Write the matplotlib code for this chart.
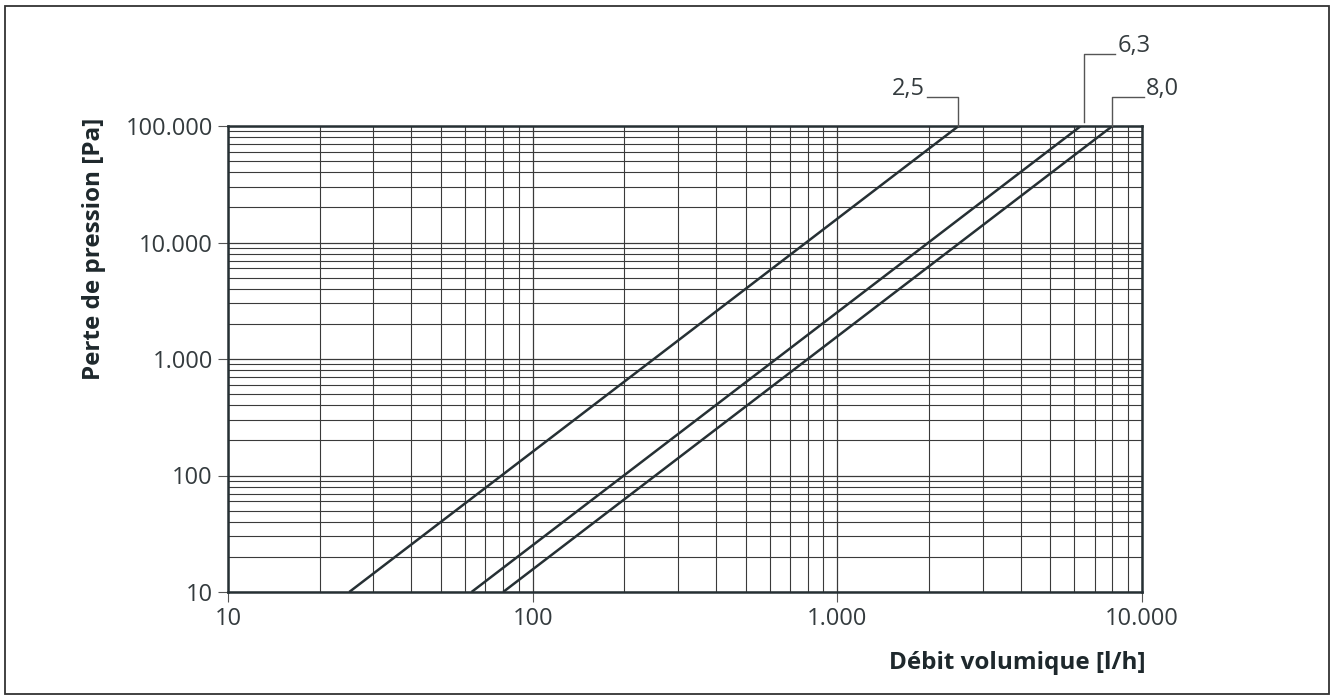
import matplotlib
matplotlib.use("Agg")
from matplotlib import pyplot as plt
from matplotlib.patches import Rectangle
from matplotlib.ticker import FixedLocator, FixedFormatter, LogLocator, NullFormatter

# Data: valve curves (kv values), endpoints
kv_labels = ["2,5", "6,3", "8,0"]
flow_25 = [25, 2500]
flow_63 = [63, 6300]
flow_80 = [80, 8000]
dp_line = [10, 100000]

x_ticks = [10, 100, 1000, 10000]
x_ticklabels = ["10", "100", "1.000", "10.000"]
y_ticks = [10, 100, 1000, 10000, 100000]
y_ticklabels = ["10", "100", "1.000", "10.000", "100.000"]

W, H = 1333, 695
plt.rcParams["font.family"] = ["Open Sans", "DejaVu Sans"]

fig = plt.figure(figsize=(W / 100, H / 100), dpi=100)

# axes in pixel coords
x0, x1, y0, y1 = 228, 1142, 126, 592
ax = fig.add_axes([x0 / W, 1 - y1 / H, (x1 - x0) / W, (y1 - y0) / H])

dark = "#263034"
grid_c = "#3a3a3a"
text_c = "#343b3e"

ax.set_xscale("log")
ax.set_yscale("log")
ax.set_xlim(10, 10000)
ax.set_ylim(10, 100000)

for flow in (flow_25, flow_63, flow_80):
    ax.plot(flow, dp_line, color=dark, lw=1.8, solid_capstyle="butt", zorder=3)

ax.xaxis.set_major_locator(FixedLocator(x_ticks))
ax.xaxis.set_major_formatter(FixedFormatter(x_ticklabels))
ax.yaxis.set_major_locator(FixedLocator(y_ticks))
ax.yaxis.set_major_formatter(FixedFormatter(y_ticklabels))
ax.xaxis.set_minor_locator(LogLocator(base=10, subs=range(2, 10)))
ax.yaxis.set_minor_locator(LogLocator(base=10, subs=range(2, 10)))
ax.xaxis.set_minor_formatter(NullFormatter())
ax.yaxis.set_minor_formatter(NullFormatter())

ax.grid(which="major", color=grid_c, lw=0.9)
ax.grid(which="minor", color=grid_c, lw=0.8)
ax.tick_params(which="minor", length=0)
ax.tick_params(which="major", length=7, width=0.8, color="#555555",
               labelsize=17, labelcolor=text_c, pad=4)

for s in ax.spines.values():
    s.set_color(dark)
    s.set_linewidth(1.8)

# axis labels
fig.text(94 / W, 1 - 249 / H, "Perte de pression [Pa]", rotation=90,
         ha="center", va="center", fontsize=17.5, fontweight="bold", color="#1e282c")
fig.text(1146 / W, 1 - 663 / H, "Débit volumique [l/h]",
         ha="right", va="center", fontsize=17.5, fontweight="bold", color="#1e282c")

# leader lines and curve labels (pixel coords)
def px(x, y):
    return x / W, 1 - y / H

lead_c = "#555555"
leaders = [
    ((927, 958), (97, 126), kv_labels[0], (925, 89), "right"),
    ((1084, 1115), (54, 122), kv_labels[1], (1118, 46), "left"),
    ((1112, 1144), (97, 126), kv_labels[2], (1146, 89), "left"),
]
for (xa, xb), (ya, yb), lab, (tx, ty), ha in leaders:
    if ha == "right":
        xs = [xa, xb, xb]
        vx = xb
    else:
        xs = [xb, xa, xa]
        vx = xa
    pts = [px(xs[0], ya), px(xs[1], ya), px(vx, yb)]
    fig.add_artist(plt.Line2D([p[0] for p in pts], [p[1] for p in pts],
                              color=lead_c, lw=1.0))
    fig.text(*px(tx, ty), lab, ha=ha, va="center", fontsize=17, color=text_c)

# outer frame
fig.add_artist(Rectangle((5 / W, 1 - 694 / H), (1329 - 5) / W, (694 - 6) / H,
                         transform=fig.transFigure, fill=False,
                         edgecolor="#333333", lw=1.3))

fig.savefig("out.png", dpi=100)
